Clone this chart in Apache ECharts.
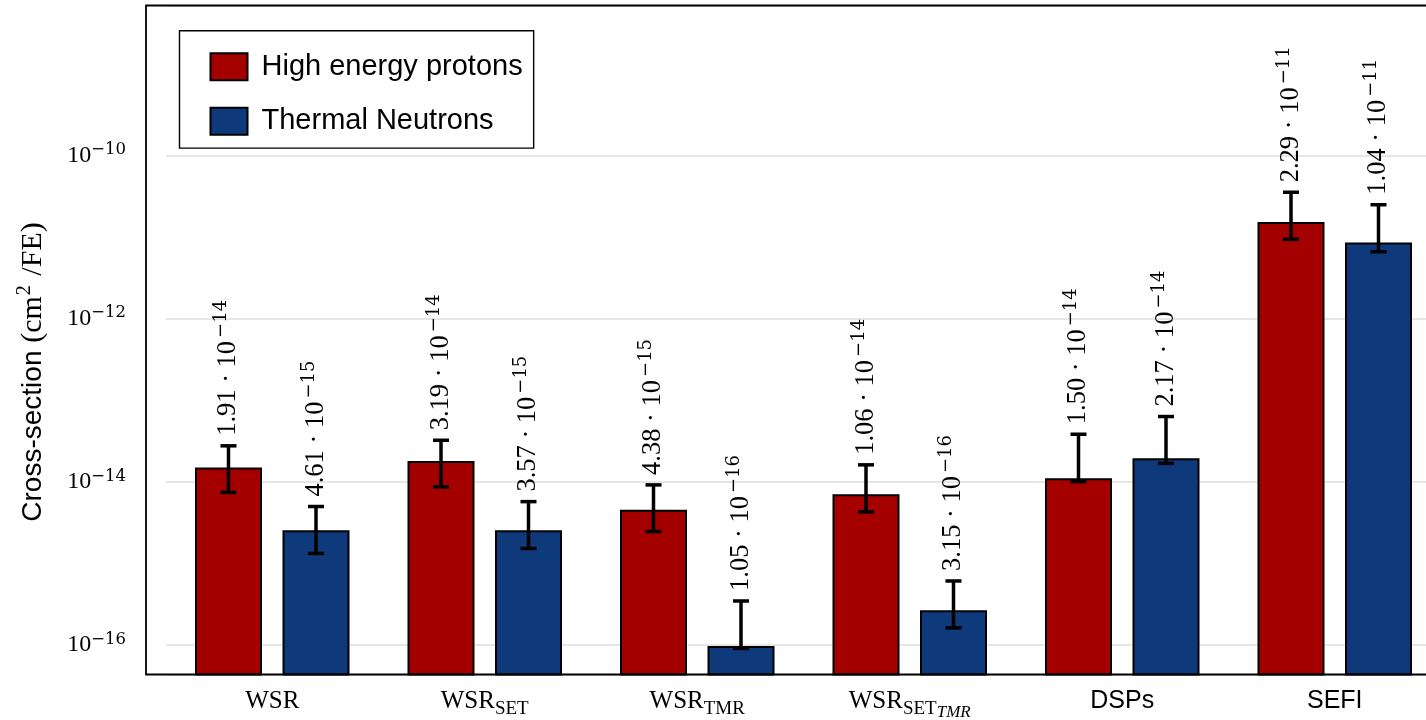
<!DOCTYPE html>
<html><head><meta charset="utf-8">
<script src="https://cdn.jsdelivr.net/npm/echarts@6/dist/echarts.min.js"></script>
<style>html,body{margin:0;padding:0;background:#fff}#c{width:1426px;height:720px}</style>
</head><body><div id="c"></div>
<script>
// ---- data (cross-section, cm^2/FE) ----
const categories = ['WSR', 'WSR_SET', 'WSR_TMR', 'WSR_SET_TMR', 'DSPs', 'SEFI'];
const seriesNames = ['High energy protons', 'Thermal Neutrons'];
const protonValue   = [1.50e-14, 1.81e-14, 4.58e-15, 7.07e-15, 1.11e-14, 1.53e-11];
const protonErrLow  = [7.44e-15, 8.71e-15, 2.47e-15, 4.30e-15, 1.01e-14, 9.38e-12];
const protonErrHigh = [2.77e-14, 3.24e-14, 9.20e-15, 1.62e-14, 3.84e-14, 3.54e-11];
const neutronValue   = [2.56e-15, 2.56e-15, 9.77e-17, 2.68e-16, 1.95e-14, 8.57e-12];
const neutronErrLow  = [1.33e-15, 1.53e-15, 9.12e-17, 1.63e-16, 1.69e-14, 6.61e-12];
const neutronErrHigh = [5.00e-15, 5.74e-15, 3.48e-16, 6.12e-16, 6.33e-14, 2.49e-11];
const protonLabelMant  = ['1.91', '3.19', '4.38', '1.06', '1.50', '2.29'];
const protonLabelExp   = [-14, -14, -15, -14, -14, -11];
const neutronLabelMant = ['4.61', '3.57', '1.05', '3.15', '2.17', '1.04'];
const neutronLabelExp  = [-15, -15, -16, -16, -14, -11];
const yTickExponents = [-16, -14, -12, -10];
const yMin = 4.375e-17, yMax = 6.87e-9;

// ---- helpers ----
const UNIT = 1e18; // plot in units of 1e-18 cm^2/FE to keep the log scale numerically safe
const sc = v => v * UNIT;
const BAR_W = 67, BAR_GAP_PX = 20.5;
const SIDE = (BAR_W + BAR_GAP_PX) / 2;
const LABEL_GAP = 10;
const RED = '#a40000', BLUE = '#0e3a7b';

const xLabelMap = {
  'WSR': '{m|WSR}',
  'WSR_SET': '{m|WSR}{s|SET}',
  'WSR_TMR': '{m|WSR}{s|TMR}',
  'WSR_SET_TMR': '{m|WSR}{s|SET}{i|TMR}',
  'DSPs': '{sans|DSPs}',
  'SEFI': '{sans|SEFI}'
};

const annRich = {
  m: {fontFamily: 'Liberation Serif', fontSize: 26.5, lineHeight: 30, fill: '#000'},
  s: {fontFamily: 'DejaVu Serif', fontSize: 18, lineHeight: 30, padding: [0, 0, 14, 3], fill: '#000'}
};

function errRender(side, mant, expo) {
  return function (params, api) {
    const i = api.value(0);
    const lo = api.coord([i, api.value(1)]);
    const hi = api.coord([i, api.value(2)]);
    const x = lo[0] + side;
    const cap = 8;
    const st = {stroke: '#000', lineWidth: 3.5};
    const k = params.dataIndex;
    return {type: 'group', children: [
      {type: 'line', shape: {x1: x, y1: lo[1], x2: x, y2: hi[1]}, style: st},
      {type: 'line', shape: {x1: x - cap, y1: hi[1], x2: x + cap, y2: hi[1]}, style: st},
      {type: 'line', shape: {x1: x - cap, y1: lo[1], x2: x + cap, y2: lo[1]}, style: st},
      {type: 'text', x: x, y: hi[1] - LABEL_GAP, rotation: Math.PI / 2,
        style: {text: '{m|' + mant[k] + ' · 10}{s|−' + Math.abs(expo[k]) + '}',
          rich: annRich, align: 'left', verticalAlign: 'middle', fill: '#000'}}
    ]};
  };
}

const chart = echarts.init(document.getElementById('c'), null, {renderer: 'canvas'});
chart.setOption({
  animation: false,
  backgroundColor: '#fff',
  grid: {left: 166, top: 5.5, width: 1275, height: 669, containLabel: false, outerBoundsMode: 'none'},
  legend: {
    data: seriesNames, orient: 'vertical', left: 179.5, top: 30.7,
    icon: 'rect', itemWidth: 37, itemHeight: 27, itemGap: 25.5,
    padding: [21.6, 11, 12.3, 30],
    backgroundColor: '#fff', borderColor: '#000', borderWidth: 1.4,
    textStyle: {fontFamily: 'Liberation Sans', fontSize: 29, lineHeight: 27, color: '#000', padding: [0, 0, 0, 9]}
  },
  xAxis: {
    type: 'category', data: categories,
    axisLine: {show: false}, axisTick: {show: false},
    axisLabel: {
      margin: 12, interval: 0,
      formatter: v => xLabelMap[v] || v,
      rich: {
        m: {fontFamily: 'Liberation Serif', fontSize: 25, lineHeight: 30, color: '#000'},
        s: {fontFamily: 'Liberation Serif', fontSize: 19, lineHeight: 30, padding: [16, 0, 0, 0], color: '#000'},
        i: {fontFamily: 'Liberation Serif', fontStyle: 'italic', fontSize: 17, lineHeight: 30, padding: [22, 0, 0, 0], color: '#000'},
        sans: {fontFamily: 'Liberation Sans', fontSize: 25, lineHeight: 30, color: '#000'}
      }
    }
  },
  yAxis: {
    type: 'log', logBase: 100, min: sc(yMin), max: sc(yMax), offset: 20,
    axisLine: {show: false},
    axisTick: {inside: true, length: 20, lineStyle: {color: '#000', width: 2}},
    splitLine: {show: true, lineStyle: {color: '#e6e6e6', width: 2}},
    axisLabel: {
      margin: 20,
      formatter: function (v) {
        const e = Math.log10(v) - 18;
        const r = Math.round(e);
        if (Math.abs(e - r) > 1e-6 || yTickExponents.indexOf(r) < 0) return '';
        return '{m|10}{s|−' + Math.abs(r) + '}';
      },
      rich: {
        m: {fontFamily: 'Liberation Serif', fontSize: 24, lineHeight: 28, color: '#000'},
        s: {fontFamily: 'DejaVu Serif', fontSize: 16.5, lineHeight: 28, padding: [0, 0, 11, 0], color: '#000'}
      }
    },
    name: '{a|Cross-section }{b|(cm}{c|2}{b| /FE)}',
    nameLocation: 'middle', nameGap: 96,
    nameTextStyle: {
      padding: [0, 64, 0, 0],
      rich: {
        a: {fontFamily: 'Liberation Sans', fontSize: 28, lineHeight: 34, color: '#000'},
        b: {fontFamily: 'Liberation Serif', fontSize: 30, lineHeight: 34, color: '#000'},
        c: {fontFamily: 'Liberation Serif', fontSize: 20, lineHeight: 34, padding: [0, 2, 16, 1], color: '#000'}
      }
    }
  },
  graphic: [{
    type: 'rect', z: 100, silent: true,
    shape: {x: 146, y: 5.5, width: 1330, height: 669},
    style: {fill: 'rgba(0,0,0,0)', stroke: '#000', lineWidth: 1.8}
  }],
  series: [
    {name: seriesNames[0], type: 'bar', data: protonValue.map(sc), barWidth: BAR_W, barGap: (BAR_GAP_PX / BAR_W * 100) + '%',
      itemStyle: {color: RED, borderColor: '#000', borderWidth: 2}},
    {name: seriesNames[1], type: 'bar', data: neutronValue.map(sc), barWidth: BAR_W, barGap: (BAR_GAP_PX / BAR_W * 100) + '%',
      itemStyle: {color: BLUE, borderColor: '#000', borderWidth: 2}},
    {name: 'protonErr', type: 'custom', z: 10,
      data: categories.map((c, i) => [i, sc(protonErrLow[i]), sc(protonErrHigh[i])]),
      encode: {x: 0, y: [1, 2]},
      renderItem: errRender(-SIDE, protonLabelMant, protonLabelExp)},
    {name: 'neutronErr', type: 'custom', z: 10,
      data: categories.map((c, i) => [i, sc(neutronErrLow[i]), sc(neutronErrHigh[i])]),
      encode: {x: 0, y: [1, 2]},
      renderItem: errRender(SIDE, neutronLabelMant, neutronLabelExp)}
  ]
});
</script></body></html>
